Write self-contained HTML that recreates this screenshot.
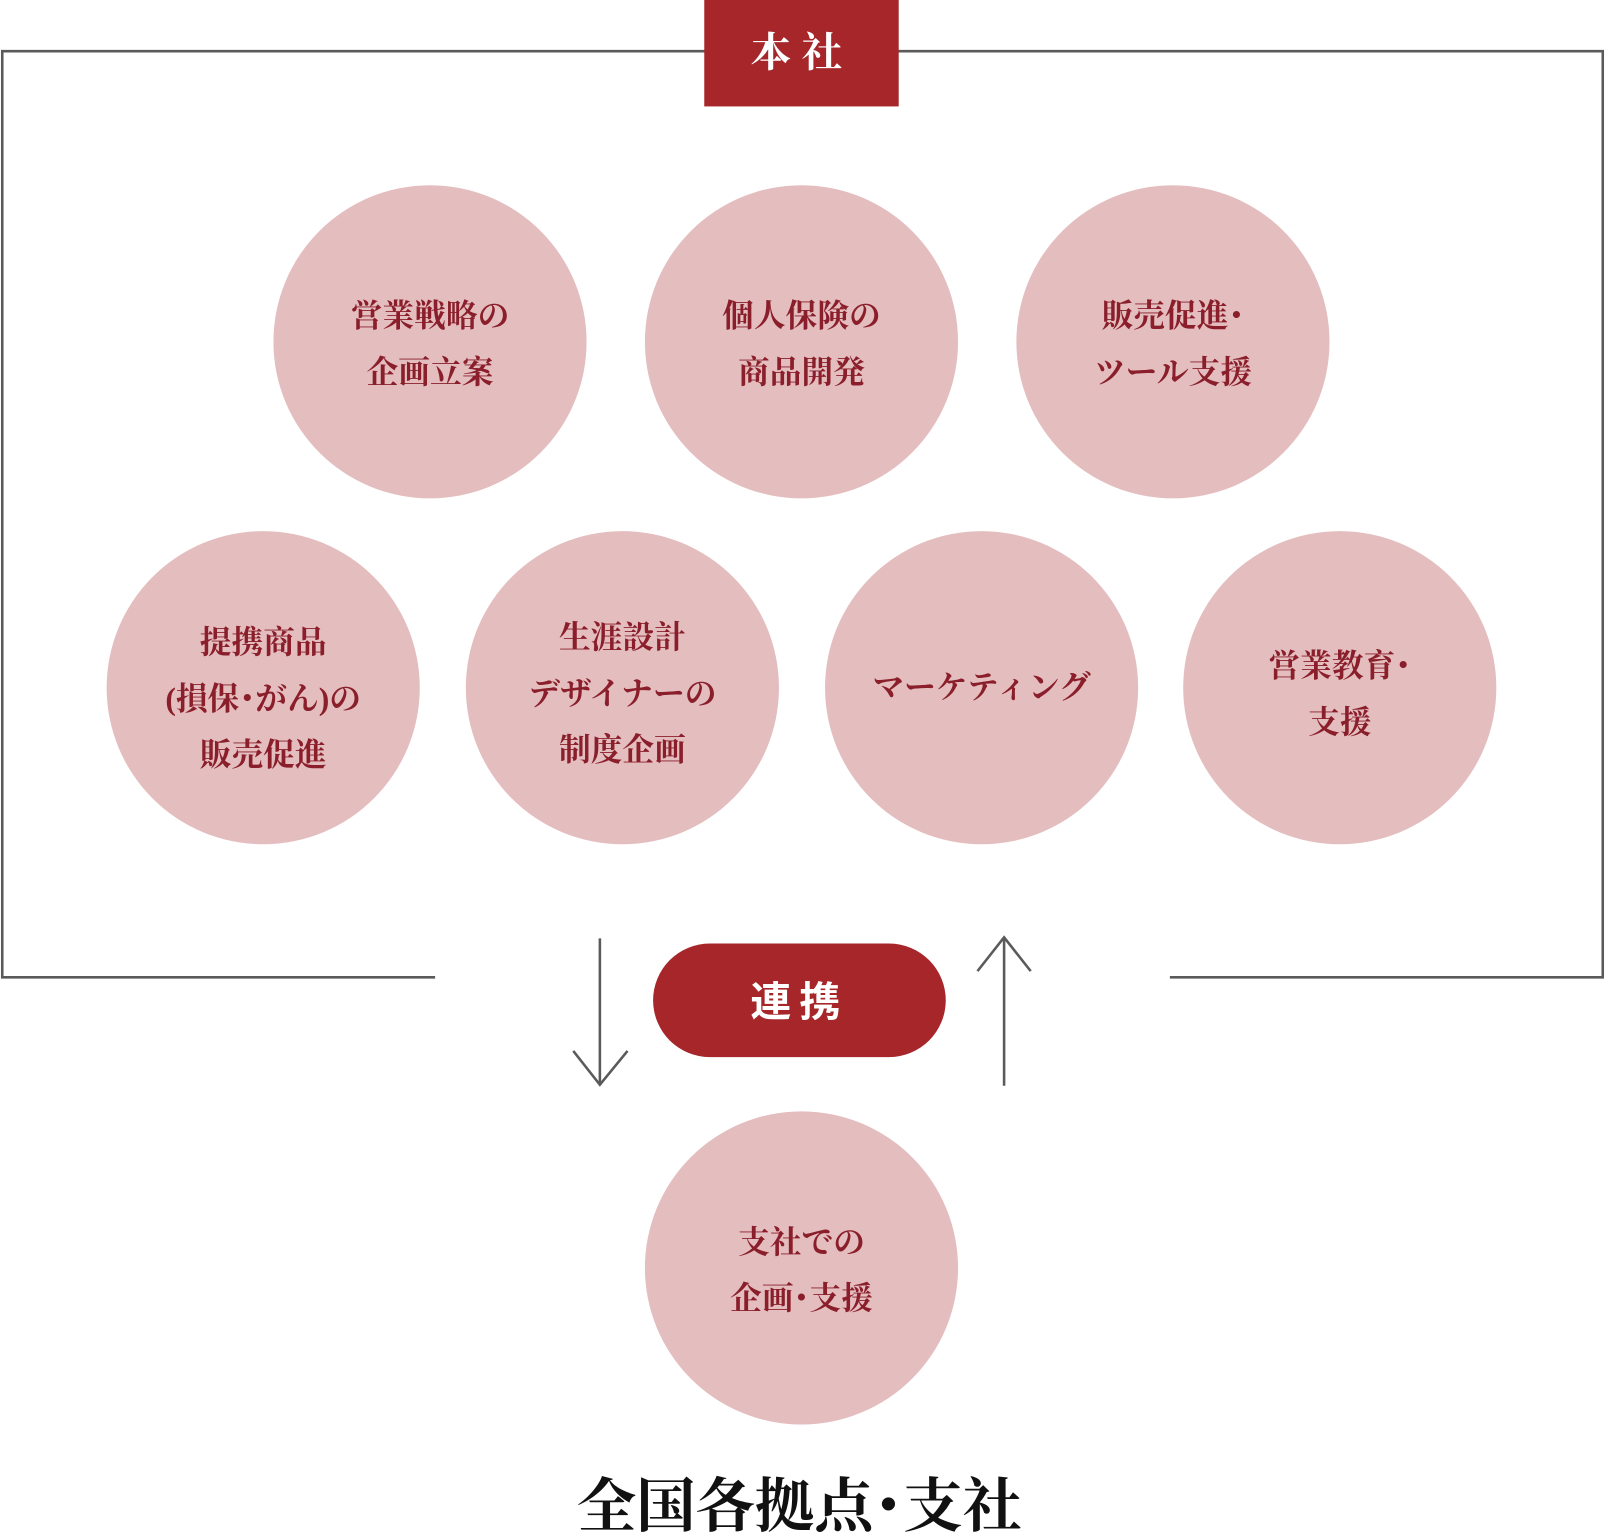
<!DOCTYPE html>
<html><head><meta charset="utf-8"><style>
html,body{margin:0;padding:0;background:#fff;width:1605px;height:1535px;overflow:hidden}
svg{display:block}
text{font-family:"Liberation Serif","Noto Serif CJK SC","Noto Serif CJK JP",serif;font-weight:bold}
.c{fill:#e4bdbf}
.t{fill:#8a1f2b;font-size:31px;text-anchor:middle;dominant-baseline:central}
</style></head><body>
<svg width="1605" height="1535" viewBox="0 0 1568 1500" xmlns="http://www.w3.org/2000/svg">
<g fill="none" stroke="#5a5a5a" stroke-width="2.5">
<polyline points="425,955 2,955 2,50 690,50"/>
<polyline points="876,50 1566,50 1566,955 1143,955"/>
<line x1="586" y1="917" x2="586" y2="1060"/>
<polyline points="560,1027 586,1060 613,1027"/>
<line x1="981" y1="1061" x2="981" y2="917"/>
<polyline points="955,949 981,916 1007,949"/>
</g>
<rect x="688" y="0" width="190" height="104" fill="#a6262a"/>
<text x="783" y="52" fill="#fff" font-size="40" text-anchor="middle" dominant-baseline="central" letter-spacing="10">本社</text>

<circle class="c" cx="420" cy="334" r="153"/>
<circle class="c" cx="783" cy="334" r="153"/>
<circle class="c" cx="1146" cy="334" r="153"/>
<circle class="c" cx="257" cy="672" r="153"/>
<circle class="c" cx="608" cy="672" r="153"/>
<circle class="c" cx="959" cy="672" r="153"/>
<circle class="c" cx="1309" cy="672" r="153"/>
<circle class="c" cx="783" cy="1239" r="153"/>

<text class="t" x="420" y="309">営業戦略の</text>
<text class="t" x="420" y="364">企画立案</text>
<text class="t" x="783" y="309">個人保険の</text>
<text class="t" x="783" y="364">商品開発</text>
<text class="t" x="1146" y="309">販売促進･</text>
<text class="t" x="1146" y="364">ツール支援</text>
<text class="t" x="257" y="628">提携商品</text>
<text class="t" x="257" y="683">(損保･がん)の</text>
<text class="t" x="257" y="738">販売促進</text>
<text class="t" x="608" y="623">生涯設計</text>
<text class="t" x="608" y="678">デザイナーの</text>
<text class="t" x="608" y="733">制度企画</text>
<text class="t" x="959" y="672">マーケティング</text>
<text class="t" x="1309" y="651">営業教育･</text>
<text class="t" x="1309" y="706">支援</text>
<text class="t" x="783" y="1214">支社での</text>
<text class="t" x="783" y="1269">企画･支援</text>

<rect x="638" y="922" width="286" height="111" rx="55.5" fill="#a6262a"/>
<text x="781" y="979" fill="#fff" font-size="40" text-anchor="middle" dominant-baseline="central" letter-spacing="8" style="font-family:'Liberation Sans','Noto Sans CJK JP',sans-serif">連携</text>

<text x="781" y="1472" fill="#111" font-size="58" text-anchor="middle" dominant-baseline="central">全国各拠点･支社</text>
</svg>
</body></html>
